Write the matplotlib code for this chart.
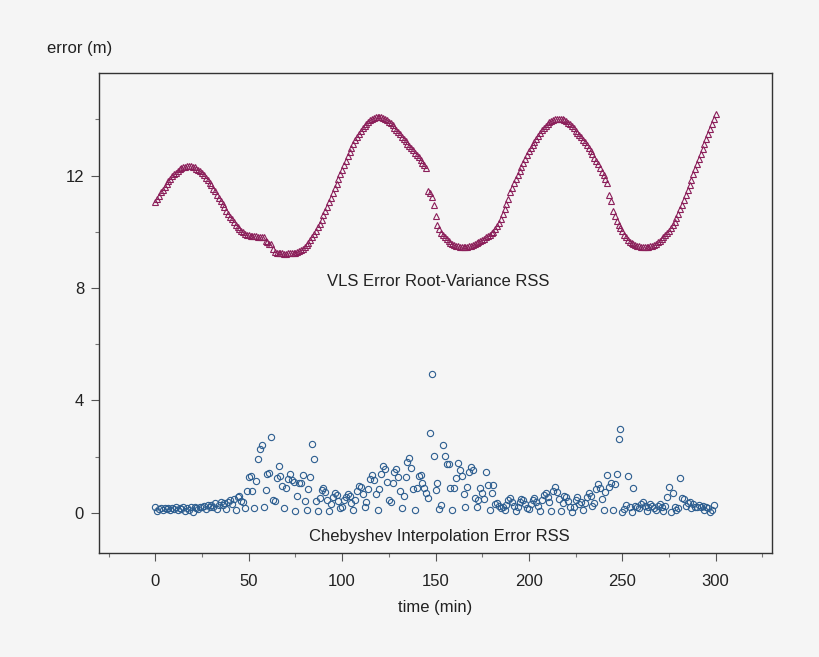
import matplotlib
matplotlib.use("Agg")
import matplotlib.pyplot as plt
import numpy as np

plt.rcParams['font.family'] = ['Liberation Sans', 'DejaVu Sans']

# VLS error root-variance RSS, one value per minute, t = 0..300
vls_rss = [
    11.07, 11.18, 11.29, 11.40, 11.50, 11.61, 11.71, 11.80, 11.89, 11.97,
    12.04, 12.11, 12.17, 12.22, 12.26, 12.30, 12.32, 12.33, 12.34, 12.34,
    12.32, 12.29, 12.25, 12.21, 12.15, 12.08, 12.01, 11.93, 11.84, 11.75,
    11.65, 11.54, 11.44, 11.32, 11.21, 11.10, 10.98, 10.87, 10.75, 10.64,
    10.54, 10.44, 10.34, 10.25, 10.17, 10.10, 10.03, 9.98, 9.93, 9.90,
    9.87, 9.86, 9.85, 9.84, 9.84, 9.83, 9.83, 9.82, 9.80, 9.66,
    9.62, 9.58, 9.55, 9.40, 9.28, 9.25, 9.24, 9.23, 9.23, 9.22,
    9.22, 9.23, 9.24, 9.25, 9.25, 9.26, 9.27, 9.30, 9.34, 9.39,
    9.45, 9.53, 9.61, 9.70, 9.80, 9.92, 10.04, 10.16, 10.29, 10.43,
    10.58, 10.73, 10.89, 11.05, 11.21, 11.38, 11.55, 11.71, 11.88, 12.04,
    12.21, 12.37, 12.53, 12.68, 12.83, 12.98, 13.12, 13.25, 13.38, 13.49,
    13.59, 13.69, 13.77, 13.85, 13.91, 13.97, 14.02, 14.05, 14.08, 14.09,
    14.09, 14.08, 14.06, 14.02, 13.98, 13.92, 13.86, 13.79, 13.71, 13.63,
    13.55, 13.47, 13.39, 13.31, 13.23, 13.14, 13.06, 12.98, 12.90, 12.82,
    12.74, 12.66, 12.57, 12.46, 12.37, 12.27, 11.45, 11.38, 11.25, 10.97,
    10.55, 10.25, 10.10, 9.95, 9.87, 9.80, 9.73, 9.66, 9.61, 9.57,
    9.53, 9.50, 9.48, 9.47, 9.46, 9.46, 9.46, 9.47, 9.48, 9.50,
    9.52, 9.56, 9.60, 9.63, 9.67, 9.71, 9.75, 9.80, 9.86, 9.90,
    9.95, 10.01, 10.10, 10.20, 10.32, 10.47, 10.63, 10.80, 10.98, 11.17,
    11.40, 11.56, 11.72, 11.87, 12.02, 12.17, 12.32, 12.46, 12.60, 12.73,
    12.86, 12.98, 13.10, 13.21, 13.32, 13.42, 13.52, 13.61, 13.69, 13.77,
    13.84, 13.90, 13.95, 13.99, 14.01, 14.03, 14.03, 14.02, 14.00, 13.97,
    13.93, 13.88, 13.82, 13.75, 13.68, 13.60, 13.52, 13.44, 13.36, 13.27,
    13.18, 13.08, 12.98, 12.87, 12.76, 12.64, 12.52, 12.40, 12.27, 12.14,
    12.01, 11.87, 11.73, 11.30, 11.10, 10.75, 10.55, 10.40, 10.25, 10.15,
    10.02, 9.90, 9.80, 9.71, 9.64, 9.59, 9.55, 9.52, 9.50, 9.48,
    9.47, 9.46, 9.46, 9.46, 9.47, 9.48, 9.50, 9.53, 9.57, 9.62,
    9.68, 9.74, 9.81, 9.88, 9.96, 10.04, 10.13, 10.23, 10.35, 10.49,
    10.64, 10.80, 10.97, 11.14, 11.32, 11.50, 11.68, 11.86, 12.04, 12.22,
    12.40, 12.58, 12.76, 12.94, 13.12, 13.30, 13.48, 13.66, 13.84, 14.02,
    14.20,
]

# Chebyshev interpolation error RSS, one value per minute, t = 0..299
cheb_rss = [
    .19, .07, .12, .16, .10, .16, .12, .17, .10, .16,
    .12, .19, .10, .16, .12, .19, .07, .16, .10, .19,
    .04, .19, .16, .12, .21, .21, .24, .12, .28, .19,
    .28, .22, .33, .12, .28, .39, .28, .36, .12, .39,
    .45, .31, .48, .10, .55, .60, .42, .39, .16, .79,
    1.28, 1.31, .79, .16, 1.13, 1.90, 2.26, 2.41, .19, .81,
    1.38, 1.43, 2.68, .45, .42, 1.22, 1.66, 1.31, .95, .16,
    .87, 1.19, 1.37, 1.17, 1.09, .06, .60, 1.05, 1.05, 1.34,
    .42, .10, .83, 1.26, 2.45, 1.90, .42, .06, .54, .81,
    .89, .75, .45, .07, .31, .55, .69, .63, .43, .16,
    .19, .45, .57, .67, .60, .33, .10, .45, .79, .95,
    .90, .67, .19, .39, .83, 1.19, 1.34, 1.17, .67, .10,
    .83, 1.38, 1.66, 1.54, 1.11, .45, .39, 1.05, 1.46, 1.54,
    1.26, .77, .16, .60, 1.28, 1.82, 1.96, 1.60, .83, .10,
    .87, 1.31, 1.34, 1.05, .87, .69, .51, 2.83, 4.93, 2.03,
    .81, 1.07, .13, .28, 2.41, 2.03, 1.73, 1.73, .89, .10,
    .87, 1.22, 1.76, 1.52, 1.32, .67, .20, .93, 1.44, 1.64,
    1.52, .54, .22, .45, .87, .71, .50, 1.44, .99, .09,
    .69, 1.00, .31, .36, .24, .16, .22, .10, .28, .45,
    .51, .39, .24, .07, .22, .39, .48, .45, .31, .16,
    .12, .30, .45, .51, .39, .24, .06, .45, .63, .69,
    .55, .39, .06, .78, .93, .75, .48, .07, .33, .60,
    .57, .42, .22, .04, .22, .45, .55, .30, .39, .10,
    .33, .57, .69, .61, .25, .36, .84, 1.02, .87, .48,
    .10, .75, 1.34, .93, 1.05, .10, 1.02, 1.38, 2.62, 2.97,
    .04, .13, .28, 1.31, .22, .04, .87, .25, .22, .16,
    .31, .37, .24, .06, .22, .30, .24, .18, .10, .25,
    .31, .22, .07, .25, .57, .90, .04, .69, .22, .10,
    .16, 1.22, .51, .48, .25, .33, .39, .16, .31, .22,
    .20, .28, .22, .24, .10, .22, .16, .04, .10, .26,
]

x_ticks = [0, 50, 100, 150, 200, 250, 300]
y_ticks = [0, 4, 8, 12]

t_vls = np.arange(len(vls_rss))
t_cheb = np.arange(len(cheb_rss))

bg = '#f5f5f5'
fig = plt.figure(figsize=(8.2, 6.57), dpi=100, facecolor=bg)
ax = fig.add_axes([0.1211, 0.1588, 0.82, 0.7296], facecolor=bg)

ax.plot(t_vls, vls_rss, linestyle='none', marker='^', markersize=4.9,
        markerfacecolor='none', markeredgecolor='#8b1f5a', markeredgewidth=0.8)
ax.plot(t_cheb, cheb_rss, linestyle='none', marker='o', markersize=4.5,
        markerfacecolor='none', markeredgecolor='#2d5e90', markeredgewidth=0.8)

ax.set_xlim(-30, 330)
ax.set_ylim(-1.42, 15.64)
ax.set_xticks(x_ticks)
ax.set_xticks(np.arange(-25, 330, 50), minor=True)
ax.set_yticks(y_ticks)
ax.set_yticks([2, 6, 10, 14], minor=True)

for sp in ax.spines.values():
    sp.set_color('#333333')
    sp.set_linewidth(1.0)

ax.tick_params(axis='both', which='major', direction='out', length=6,
               width=0.8, color='#555555', labelsize=12, labelcolor='#222222')
ax.tick_params(axis='both', which='minor', direction='out', length=3,
               width=0.8, color='#777777')
ax.tick_params(axis='x', which='major', pad=9)
ax.tick_params(axis='y', which='major', pad=5)

ax.set_xlabel('time (min)', fontsize=12, color='#222222', labelpad=8)
fig.text(47 / 820, 1 - 49 / 657, 'error (m)', fontsize=12, color='#222222',
         ha='left', va='center')

ax.text(151.5, 8.22, 'VLS Error Root-Variance RSS', fontsize=12,
        color='#222222', ha='center', va='center')
ax.text(152.3, -0.85, 'Chebyshev Interpolation Error RSS', fontsize=12,
        color='#222222', ha='center', va='center')

fig.savefig('out.png', dpi=100, facecolor=bg)
